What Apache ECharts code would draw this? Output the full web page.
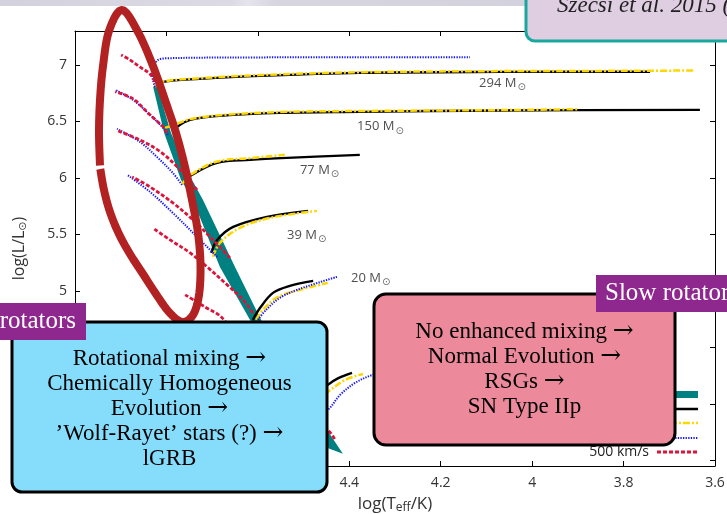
<!DOCTYPE html>
<html>
<head>
<meta charset="utf-8">
<script src="https://cdn.jsdelivr.net/npm/echarts@6/dist/echarts.min.js"></script>
<style>
  html, body { margin: 0; padding: 0; background: #ffffff; }
  #chart { width: 727px; height: 514px; }
</style>
</head>
<body>
<div id="chart"></div>
<script>
// ---- Hertzsprung-Russell diagram: log Teff vs log L/Lsun ----

// Axis tick values
const lumTicks = [3.5, 4, 4.5, 5, 5.5, 6, 6.5, 7];

// ZAMS band outline: hot edge (top to tip), then cool edge (tip to top)
const bandHotEdge = [[4.829, 6.805], [4.805, 6.398], [4.768, 5.982], [4.742, 5.805], [4.683, 5.212], [4.617, 4.743], [4.449, 3.611], [4.414, 3.558]];
const bandCoolEdge = [[4.449, 3.770], [4.591, 4.726], [4.650, 5.212], [4.720, 5.805], [4.744, 5.982], [4.790, 6.398], [4.821, 6.823]];

// Non-rotating tracks (solid)
const m294_v0 = [[4.825, 6.805], [4.807, 6.850], [4.727, 6.876], [4.595, 6.903], [4.377, 6.929], [4.070, 6.938], [3.742, 6.940]];
const m150_v0 = [[4.777, 6.451], [4.748, 6.513], [4.683, 6.549], [4.552, 6.575], [4.377, 6.584], [4.070, 6.597], [3.633, 6.602]];
const m77_v0 = [[4.762, 5.956], [4.744, 6.027], [4.689, 6.133], [4.617, 6.159], [4.536, 6.177], [4.377, 6.204]];
const m39_v0 = [[4.702, 5.336], [4.689, 5.451], [4.654, 5.566], [4.580, 5.655], [4.490, 5.708]];
const m20_v0 = [[4.611, 4.743], [4.595, 4.850], [4.567, 4.982], [4.530, 5.044], [4.479, 5.088]];
const m12_v0 = [[4.500, 3.990], [4.447, 4.168], [4.425, 4.225], [4.394, 4.274]];

// Slow rotators (dash-dot)
const m294_v1 = [[4.825, 6.805], [4.807, 6.852], [4.727, 6.882], [4.595, 6.910], [4.377, 6.935], [4.070, 6.945], [3.742, 6.948], [3.644, 6.951]];
const m150_v1 = [[4.803, 6.442], [4.770, 6.490], [4.748, 6.520], [4.683, 6.555], [4.552, 6.583], [4.377, 6.592], [4.070, 6.600], [3.900, 6.608]];
const m77_v1 = [[4.766, 5.945], [4.744, 6.035], [4.689, 6.145], [4.617, 6.175], [4.541, 6.204]];
const m39_v1 = [[4.698, 5.301], [4.683, 5.425], [4.639, 5.558], [4.573, 5.646], [4.471, 5.708]];
const m20_v1 = [[4.604, 4.743], [4.589, 4.832], [4.556, 4.947], [4.508, 5.009], [4.447, 5.071]];
const m12_v1 = [[4.500, 3.950], [4.447, 4.106], [4.409, 4.212], [4.370, 4.265]];

// Intermediate rotators (dotted)
const m294_v2 = [[4.825, 6.805], [4.832, 6.929], [4.821, 7.035], [4.803, 7.058], [4.617, 7.066], [4.289, 7.068], [4.136, 7.068]];
const m150_v2 = [[4.797, 6.381], [4.803, 6.425], [4.836, 6.558], [4.873, 6.690], [4.912, 6.779]];
const m77_v2 = [[4.766, 5.938], [4.786, 6.044], [4.821, 6.186], [4.858, 6.319], [4.908, 6.434]];
const m39_v2 = [[4.689, 5.301], [4.733, 5.478], [4.786, 5.690], [4.836, 5.876], [4.886, 6.027]];
const m20_v2 = [[4.600, 4.743], [4.582, 4.832], [4.552, 4.938], [4.508, 5.018], [4.427, 5.124]];
const m12_v2 = [[4.490, 3.850], [4.447, 3.947], [4.420, 4.080], [4.387, 4.186], [4.348, 4.257], [4.300, 4.290]];

// Fast rotators, 500 km/s (dashed)
const m294_v3 = [[4.825, 6.850], [4.836, 6.920], [4.858, 6.982], [4.880, 7.044], [4.899, 7.088]];
const m150_v3 = [[4.799, 6.398], [4.807, 6.451], [4.836, 6.558], [4.873, 6.699], [4.912, 6.764]];
const m77_v3 = [[4.733, 5.894], [4.748, 5.967], [4.777, 6.100], [4.814, 6.233], [4.858, 6.336], [4.908, 6.419]];
const m39_v3 = [[4.661, 5.292], [4.698, 5.451], [4.742, 5.628], [4.786, 5.779], [4.836, 5.920], [4.875, 6.009]];
const m20_v3 = [[4.611, 4.805], [4.632, 4.920], [4.667, 5.053], [4.711, 5.212], [4.748, 5.336], [4.792, 5.451], [4.827, 5.549]];
const m12_v3 = [[4.620, 4.450], [4.678, 4.761], [4.716, 4.858], [4.759, 4.965]];
const m9_v3 = [[4.432, 3.690], [4.447, 3.770], [4.500, 3.950]];

// Initial-mass labels: [log Teff, log L, mass]
const massLabels = [[4.116, 6.841, '294'], [4.383, 6.460, '150'], [4.508, 6.071, '77'], [4.536, 5.496, '39'], [4.396, 5.115, '20']];

const legendLabel = '500 km/s';

const tracksV0 = [m294_v0, m150_v0, m77_v0, m39_v0, m20_v0, m12_v0];
const tracksV1 = [m294_v1, m150_v1, m77_v1, m39_v1, m20_v1, m12_v1];
const tracksV2 = [m294_v2, m150_v2, m77_v2, m39_v2, m20_v2, m12_v2];
const tracksV3 = [m294_v3, m150_v3, m77_v3, m39_v3, m20_v3, m12_v3, m9_v3];

const SANS = '"Open Sans", "DejaVu Sans", sans-serif';
const SERIF = '"Liberation Serif", "DejaVu Serif", serif';
const SYMBOL = '"DejaVu Sans", sans-serif';
const TEAL = '#008080';
const BLACK_STYLE = { color: '#000000', width: 2.4, type: 'solid' };
const YELLOW_STYLE = { color: '#ffd700', width: 2.5, type: [7, 2, 2, 2] };
const BLUE_STYLE = { color: '#1414ff', width: 2, type: [1.3, 1.3] };
const RED_STYLE = { color: '#dc143c', width: 2.8, type: [4, 2] };

function trackSeries(list, style, z) {
  return list.map(d => ({
    type: 'line', data: d, showSymbol: false, smooth: 0.35, z: z,
    lineStyle: style, silent: true, animation: false
  }));
}

const series = [
  {
    type: 'custom', coordinateSystem: 'cartesian2d', z: 1, silent: true,
    data: [bandHotEdge[0]],
    renderItem: function (params, api) {
      const pts = bandHotEdge.concat(bandCoolEdge).map(p => api.coord(p));
      return { type: 'polygon', shape: { points: pts }, style: { fill: TEAL } };
    }
  }
].concat(
  trackSeries(tracksV0, BLACK_STYLE, 3),
  trackSeries(tracksV1, YELLOW_STYLE, 4),
  trackSeries(tracksV2, BLUE_STYLE, 5),
  trackSeries(tracksV3, RED_STYLE, 6),
  [{
    type: 'scatter', data: massLabels, symbolSize: 0, z: 7, silent: true,
    label: {
      show: true, position: 'right', distance: 0,
      formatter: p => '{n|' + p.value[2] + ' M}{s|\u2299}',
      rich: {
        n: { fontSize: 13, fontFamily: SANS, color: '#222' },
        s: { fontSize: 10, fontFamily: SYMBOL, color: '#444', padding: [10, 0, 0, 1] }
      }
    }
  }]
);

const axisLineStyle = { lineStyle: { color: '#000', width: 1 } };
const tickInside = { show: true, inside: true, length: 5, lineStyle: { color: '#000' } };

// Outline of the highlighted region: smooth loop through key points,
// left open at one spot on the left side.
const loopKeys = [[100.3, 169], [104, 190], [110, 212], [119, 234], [130, 254], [143, 274], [156, 294], [169, 312], [182, 322], [193, 315], [199, 295], [200.5, 265], [198, 233], [192, 200], [185, 167], [176, 133], [165, 100], [153, 66], [138, 32], [122, 10], [109, 31], [103, 66], [100, 100], [99, 133], [100, 165.5]];
function ringSpline(keys, steps) {
  const n = keys.length, out = [];
  for (let i = 0; i < n - 1; i++) {
    const p0 = keys[(i - 1 + n) % n], p1 = keys[i], p2 = keys[i + 1], p3 = keys[(i + 2) % n];
    for (let s = 0; s < steps; s++) {
      const t = s / steps, t2 = t * t, t3 = t2 * t;
      out.push([0, 1].map(k => 0.5 * (2 * p1[k] + (-p0[k] + p2[k]) * t +
        (2 * p0[k] - 5 * p1[k] + 4 * p2[k] - p3[k]) * t2 +
        (-p0[k] + 3 * p1[k] - 3 * p2[k] + p3[k]) * t3)));
    }
  }
  out.push(keys[n - 1]);
  return out;
}

const ARROW = '{r|\u2192}';
const boxRich = {
  t: { fontSize: 23, fontFamily: SERIF, color: '#111', lineHeight: 25 },
  r: { fontSize: 25, fontFamily: '"DejaVu Serif", serif', color: '#111', lineHeight: 25 }
};

const option = {
  animation: false,
  backgroundColor: '#ffffff',
  grid: { left: 75, right: 12, top: 31, bottom: 48, containLabel: false, outerBoundsMode: 'none' },
  xAxis: [
    {
      type: 'value', min: 3.6, max: 5.0, interval: 0.2, inverse: true, position: 'bottom',
      axisLine: axisLineStyle, axisTick: tickInside, splitLine: { show: false },
      axisLabel: { margin: 10, color: '#333', fontSize: 14, fontFamily: SANS },
      name: '{a|log(T}{s|eff}{a|/K)}', nameLocation: 'middle', nameGap: 28,
      nameTextStyle: {
        rich: {
          a: { fontSize: 17, fontFamily: SANS, color: '#333' },
          s: { fontSize: 12, fontFamily: SANS, color: '#333', padding: [8, 0, 0, 0] }
        }
      }
    },
    {
      type: 'value', min: 3.6, max: 5.0, interval: 0.2, inverse: true, position: 'top',
      axisLine: axisLineStyle, axisTick: tickInside, axisLabel: { show: false }, splitLine: { show: false }
    }
  ],
  yAxis: [
    {
      type: 'value', min: 3.45, max: 7.3, position: 'left',
      axisLine: axisLineStyle, splitLine: { show: false },
      axisTick: Object.assign({ customValues: lumTicks }, tickInside),
      axisLabel: { customValues: lumTicks, margin: 8, color: '#333', fontSize: 14, fontFamily: SANS },
      name: '{a|log(L/L}{s|\u2299}{a|)}', nameLocation: 'middle', nameGap: 46,
      nameTextStyle: {
        rich: {
          a: { fontSize: 16, fontFamily: SANS, color: '#333' },
          s: { fontSize: 11, fontFamily: SYMBOL, color: '#444', padding: [9, 0, 0, 0] }
        }
      }
    },
    {
      type: 'value', min: 3.45, max: 7.3, position: 'right',
      axisLine: axisLineStyle, splitLine: { show: false },
      axisTick: Object.assign({ customValues: lumTicks }, tickInside),
      axisLabel: { show: false }
    }
  ],
  series: series,
  graphic: [
    // header strip
    {
      type: 'rect', z: 40, shape: { x: 0, y: 0, width: 727, height: 6 },
      style: {
        fill: new echarts.graphic.LinearGradient(0, 0, 1, 0, [
          { offset: 0, color: '#d2d1dd' }, { offset: 0.32, color: '#dcdbe5' },
          { offset: 0.34, color: '#e6e5ee' }, { offset: 0.38, color: '#d6d5e0' },
          { offset: 1, color: '#d0cfdb' }
        ])
      }
    },
    // citation box
    {
      type: 'rect', z: 60, shape: { x: 526, y: -20, width: 230, height: 61, r: 9 },
      style: { fill: '#dfcde1', stroke: '#19a89e', lineWidth: 3 }
    },
    {
      type: 'text', z: 61, x: 557, y: 17,
      style: { text: 'Sz\u00e9csi et al. 2015 (A&A)', font: 'italic 23px ' + SERIF, fill: '#222', verticalAlign: 'bottom' }
    },
    // highlighted group of fast rotators
    {
      type: 'polyline', z: 50, shape: { points: ringSpline(loopKeys, 10) },
      style: { stroke: '#b22222', lineWidth: 8, fill: null, lineCap: 'butt', lineJoin: 'round' }
    },
    // legend keys
    { type: 'rect', z: 55, shape: { x: 657, y: 391, width: 41, height: 7 }, style: { fill: TEAL } },
    { type: 'line', z: 55, shape: { x1: 657, y1: 409, x2: 698, y2: 409 }, style: { stroke: '#000', lineWidth: 2.4 } },
    { type: 'line', z: 55, shape: { x1: 657, y1: 423, x2: 698, y2: 423 }, style: { stroke: '#ffd700', lineWidth: 2.5, lineDash: [7, 2, 2, 2] } },
    { type: 'line', z: 55, shape: { x1: 657, y1: 438, x2: 698, y2: 438 }, style: { stroke: '#1414ff', lineWidth: 2, lineDash: [1.3, 1.3] } },
    { type: 'line', z: 55, shape: { x1: 657, y1: 452, x2: 698, y2: 452 }, style: { stroke: '#dc143c', lineWidth: 2.8, lineDash: [4, 2] } },
    {
      type: 'text', z: 55, x: 649, y: 452,
      style: { text: legendLabel, font: '14px ' + SANS, fill: '#222', align: 'right', verticalAlign: 'middle' }
    },
    // fast-rotator box
    {
      type: 'rect', z: 60, shape: { x: 12, y: 322, width: 315, height: 170, r: 10 },
      style: { fill: '#86dcfb', stroke: '#000', lineWidth: 3 }
    },
    {
      type: 'text', z: 61, x: 169.5, y: 408.5,
      style: {
        text: '{t|Rotational mixing }' + ARROW + '\n{t|Chemically Homogeneous}\n{t|Evolution }' + ARROW +
          '\n{t|\u2019Wolf-Rayet\u2019 stars (?) }' + ARROW + '\n{t|lGRB}',
        rich: boxRich, align: 'center', verticalAlign: 'middle'
      }
    },
    // slow-rotator box
    {
      type: 'rect', z: 60, shape: { x: 374, y: 294, width: 301, height: 151, r: 12 },
      style: { fill: '#ec8a9c', stroke: '#000', lineWidth: 3 }
    },
    {
      type: 'text', z: 61, x: 524.5, y: 369,
      style: {
        text: '{t|No enhanced mixing }' + ARROW + '\n{t|Normal Evolution }' + ARROW + '\n{t|RSGs }' + ARROW + '\n{t|SN Type IIp}',
        rich: boxRich, align: 'center', verticalAlign: 'middle'
      }
    },
    // tags
    { type: 'rect', z: 70, shape: { x: -10, y: 303, width: 96, height: 37 }, style: { fill: '#8e288e' } },
    {
      type: 'text', z: 71, x: 76, y: 321.5,
      style: { text: 'Fast rotators', font: '25px ' + SERIF, fill: '#ffffff', align: 'right', verticalAlign: 'middle' }
    },
    { type: 'rect', z: 70, shape: { x: 596, y: 275, width: 140, height: 37 }, style: { fill: '#8e288e' } },
    {
      type: 'text', z: 71, x: 605, y: 293.5,
      style: { text: 'Slow rotators', font: '25px ' + SERIF, fill: '#ffffff', align: 'left', verticalAlign: 'middle' }
    }
  ]
};

const chart = echarts.init(document.getElementById('chart'));
chart.setOption(option);
</script>
</body>
</html>
